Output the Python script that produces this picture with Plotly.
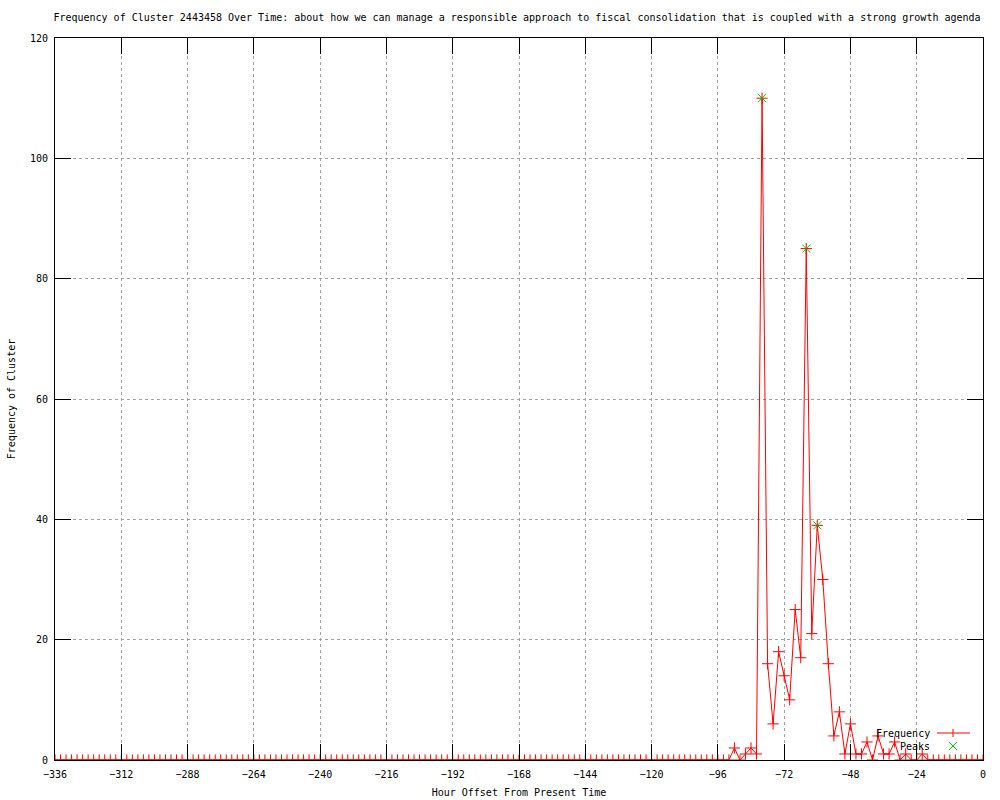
import plotly.graph_objects as go

# Hours: every 2 hours from -336 to 0
hours = list(range(-336, 1, 2))

# Frequency values (one per 2-hour step, -336 ... 0)
freq = [
    0, 0, 0, 0, 0, 0, 0, 0, 0, 0, 0, 0,   # -336 .. -314
    0, 0, 0, 0, 0, 0, 0, 0, 0, 0, 0, 0,   # -312 .. -290
    0, 0, 0, 0, 0, 0, 0, 0, 0, 0, 0, 0,   # -288 .. -266
    0, 0, 0, 0, 0, 0, 0, 0, 0, 0, 0, 0,   # -264 .. -242
    0, 0, 0, 0, 0, 0, 0, 0, 0, 0, 0, 0,   # -240 .. -218
    0, 0, 0, 0, 0, 0, 0, 0, 0, 0, 0, 0,   # -216 .. -194
    0, 0, 0, 0, 0, 0, 0, 0, 0, 0, 0, 0,   # -192 .. -170
    0, 0, 0, 0, 0, 0, 0, 0, 0, 0, 0, 0,   # -168 .. -146
    0, 0, 0, 0, 0, 0, 0, 0, 0, 0, 0, 0,   # -144 .. -122
    0, 0, 0, 0, 0, 0, 0, 0, 0, 0, 0, 0,   # -120 .. -98
    0, 0, 0, 2, 0, 1, 2, 1, 110, 16, 6, 18,   # -96 .. -74
    14, 10, 25, 17, 85, 21, 39, 30, 16, 4, 8, 1,   # -72 .. -50
    6, 1, 1, 3, 0, 4, 1, 1, 3, 0, 1, 0,   # -48 .. -26
    0, 1, 0, 0, 0, 0, 0, 0, 0, 0, 0, 0,   # -24 .. -2
    0,                                     # 0
]

peak_hours = [-80, -64, -60]
peak_values = [110, 85, 39]

x_ticks = [-336, -312, -288, -264, -240, -216, -192, -168, -144, -120, -96, -72, -48, -24, 0]
y_ticks = [0, 20, 40, 60, 80, 100, 120]

FONT = "DejaVu Sans Mono"
RED = "#ff0000"
GREEN = "#00c000"

fig = go.Figure()
fig.add_trace(go.Scatter(
    x=hours, y=freq, mode="lines+markers", name="Frequency",
    line=dict(color=RED, width=1),
    marker=dict(symbol="cross-thin", size=8, line=dict(color=RED, width=1), color=RED),
))
fig.add_trace(go.Scatter(
    x=peak_hours, y=peak_values, mode="markers", name="Peaks",
    marker=dict(symbol="x-thin", size=8, line=dict(color=GREEN, width=1), color=GREEN),
))

axis_common = dict(
    showline=True, linecolor="black", linewidth=1, mirror="ticks",
    ticks="inside", ticklen=16, tickcolor="black", tickwidth=1,
    showgrid=True, gridcolor="#a0a0a0", griddash="dot", gridwidth=1,
    zeroline=False, automargin=False, layer="above traces",
    tickfont=dict(family=FONT, size=10, color="black"),
)

fig.update_layout(
    width=1000, height=800,
    margin=dict(l=55, r=17, t=38, b=40, autoexpand=False),
    paper_bgcolor="white", plot_bgcolor="white",
    showlegend=False, hovermode=False,
    font=dict(family=FONT, size=10, color="black"),
    title=dict(
        text="Frequency of Cluster 2443458 Over Time: about how we can manage a responsible approach to fiscal consolidation that is coupled with a strong growth agenda",
        x=0.517, xref="container", xanchor="center", y=0.978, yanchor="middle",
        font=dict(family=FONT, size=10, color="black"),
    ),
    xaxis=dict(range=[-336, 0], tickvals=x_ticks, ticktext=[str(v).replace("-", "\u2212") for v in x_ticks],
               ticklabelstandoff=5,
               title=dict(text="Hour Offset From Present Time", standoff=9,
                          font=dict(family=FONT, size=10)), **axis_common),
    yaxis=dict(range=[0, 120], tickvals=y_ticks, ticklabelstandoff=4,
               title=dict(text="Frequency of Cluster", standoff=12,
                          font=dict(family=FONT, size=10)), **axis_common),
)

# Gnuplot-style key (text on left, sample on right) in the lower right corner
px = lambda p: (p - 55) / 928.0
py = lambda p: (760 - p) / 722.0
fig.add_annotation(x=px(932), y=py(733), xref="paper", yref="paper", text="Frequency",
                   showarrow=False, xanchor="right", yanchor="middle",
                   font=dict(family=FONT, size=10, color="black"))
fig.add_annotation(x=px(932), y=py(746), xref="paper", yref="paper", text="Peaks",
                   showarrow=False, xanchor="right", yanchor="middle",
                   font=dict(family=FONT, size=10, color="black"))
fig.add_shape(type="line", xref="paper", yref="paper", x0=px(937), x1=px(970), y0=py(733), y1=py(733),
              line=dict(color=RED, width=1))
fig.add_shape(type="line", xref="paper", yref="paper", x0=px(953), x1=px(953), y0=py(729), y1=py(737),
              line=dict(color=RED, width=1))
fig.add_shape(type="line", xref="paper", yref="paper", x0=px(949), x1=px(957), y0=py(742), y1=py(750),
              line=dict(color=GREEN, width=1))
fig.add_shape(type="line", xref="paper", yref="paper", x0=px(949), x1=px(957), y0=py(750), y1=py(742),
              line=dict(color=GREEN, width=1))

fig.write_html("out.html", config={"displayModeBar": False},
               post_script="document.body.style.margin='0';document.body.style.padding='0';")
